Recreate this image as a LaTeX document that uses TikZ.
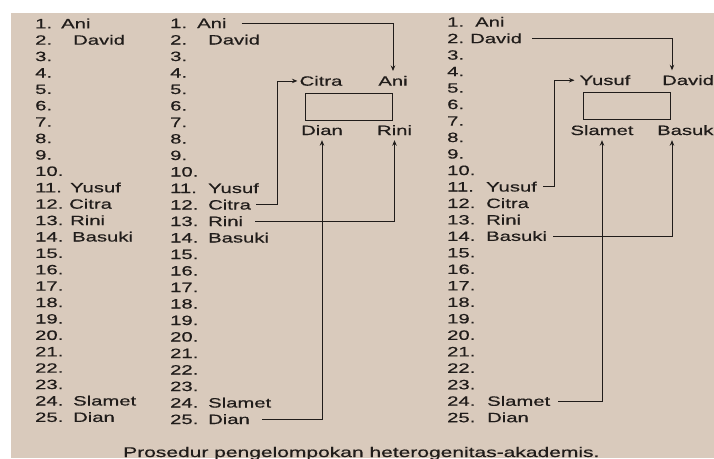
\documentclass[tikz,border=0pt]{standalone}
\usepackage{fontspec}
\setmainfont{Liberation Sans}[FakeStretch=1.5,FakeBold=0.5]
\usetikzlibrary{arrows.meta}
\definecolor{paper}{RGB}{217,202,188}
\definecolor{ink}{RGB}{32,28,26}
\begin{document}
\begin{tikzpicture}[x=1pt,y=-1pt,
  txt/.style={font=\fontsize{13.5pt}{16pt}\selectfont, text=ink, inner sep=0pt, text height=9.5pt, text depth=0pt},
  item/.style={txt, anchor=base west},
  grp/.style={txt, anchor=base},
  conn/.style={draw=ink, line width=0.9pt},
  arr/.style={conn, -{Stealth[length=5.5pt,width=4.5pt]}, shorten >=5pt},
  boxst/.style={draw=ink, line width=0.9pt, inner sep=0pt, anchor=north west}]
\fill[white] (0,0) rectangle (714,458);
\useasboundingbox (0,0) rectangle (714,458);
\fill[paper] (11,13) rectangle (714,458);
% numbers of the three lists
\foreach \n in {1,...,25}{
  \node[item] (a\n) at (35,{28.3+(\n-1)*16.4}) {\n.};
  \node[item] (b\n) at (170,{28+(\n-1)*16.5}) {\n.};
  \node[item] (c\n) at (447,{26.7+(\n-1)*16.48}) {\n.};
}
% column 1
\node[item] (a1n)  at (61,28.3)  {Ani};
\node[item] (a2n)  at (73,44.7)  {David};
\node[item] (a11n) at (70,192.3) {Yusuf};
\node[item] (a12n) at (69,208.7) {Citra};
\node[item] (a13n) at (70,225.1) {Rini};
\node[item] (a14n) at (72,241.5) {Basuki};
\node[item] (a24n) at (73,405.5) {Slamet};
\node[item] (a25n) at (73,421.9) {Dian};
% column 2
\node[item] (b1n)  at (197,28)    {Ani};
\node[item] (b2n)  at (208,44.5)  {David};
\node[item] (b11n) at (208,193)   {Yusuf};
\node[item] (b12n) at (208,209.5) {Citra};
\node[item] (b13n) at (208,226)   {Rini};
\node[item] (b14n) at (208,242.5) {Basuki};
\node[item] (b24n) at (208,407.5) {Slamet};
\node[item] (b25n) at (208,424)   {Dian};
% column 3
\node[item] (c1n)  at (475,26.7)  {Ani};
\node[item] (c2n)  at (470,43.2)  {David};
\node[item] (c11n) at (486,191.5) {Yusuf};
\node[item] (c12n) at (486,208)   {Citra};
\node[item] (c13n) at (486,224.5) {Rini};
\node[item] (c14n) at (486,240.9) {Basuki};
\node[item] (c24n) at (487,405.8) {Slamet};
\node[item] (c25n) at (487,422.2) {Dian};
% group 1
\node[boxst, minimum width=87pt, minimum height=27pt] (box1) at (305,93) {};
\node[grp] (gCitra) at (321,85.7) {Citra};
\node[grp] (gAni)   at (393,85.7) {Ani};
\node[grp] (gDian)  at (322,135)  {Dian};
\node[grp] (gRini)  at (394.5,135) {Rini};
\draw[arr] ([xshift=15pt]b1n.east) -| (gAni.north);
\draw[arr, shorten >=2pt] ([xshift=5pt]b12n.east) -- ++(21,0) |- (gCitra.west);
\draw[arr] ([xshift=12pt]b13n.east) -| (gRini.south);
\draw[arr] ([xshift=12pt]b25n.east) -| (gDian.south);
% group 2
\node[boxst, minimum width=87pt, minimum height=27pt] (box2) at (583,92) {};
\node[grp] (gYusuf)  at (605,85) {Yusuf};
\node[item] (gDavid) at (662,85) {David};
\node[grp] (gSlamet) at (602,135) {Slamet};
\node[item] (gBasuki) at (657,135) {Basuki};
\draw[arr] ([xshift=10pt]c2n.east) -| ([xshift=10pt]gDavid.north west);
\draw[arr] ([xshift=6pt]c11n.east) -- ++(11,0) |- (gYusuf.west);
\draw[arr] ([xshift=6pt]c14n.east) -| ([xshift=15pt]gBasuki.south west);
\draw[arr] ([xshift=8pt]c24n.east) -| (gSlamet.south);
% caption
\node[anchor=base west, inner sep=0pt, text=ink, font=\fontsize{14pt}{16pt}\selectfont] (cap) at (123,457) {Prosedur pengelompokan heterogenitas-akademis.};
\end{tikzpicture}
\end{document}
